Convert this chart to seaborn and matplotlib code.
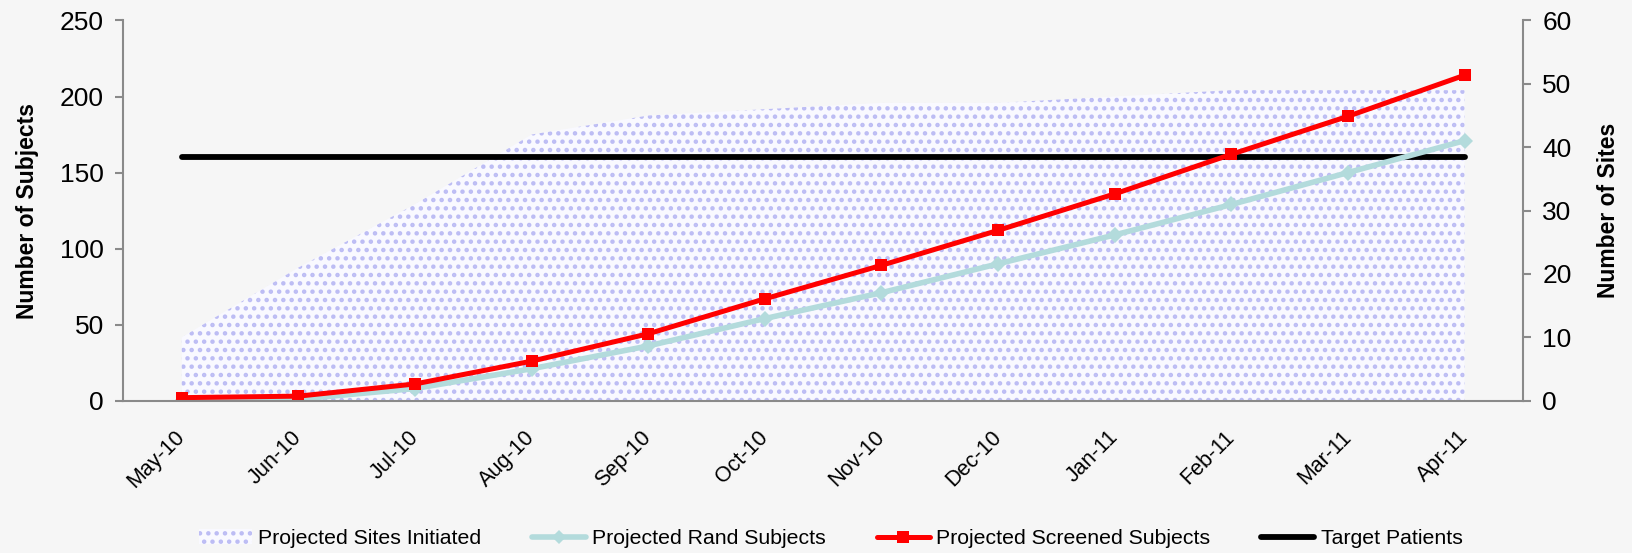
import numpy as np
import pandas as pd
import matplotlib
matplotlib.use("Agg")
import matplotlib.pyplot as plt
from matplotlib.lines import Line2D
from matplotlib.patches import Patch
import seaborn as sns

months = ["May-10", "Jun-10", "Jul-10", "Aug-10", "Sep-10", "Oct-10",
          "Nov-10", "Dec-10", "Jan-11", "Feb-11", "Mar-11", "Apr-11"]
sites_initiated = [10, 21, 31, 42, 45, 46, 47, 47, 48, 49, 49, 49]
rand_subjects = [0, 1, 8, 21, 36, 54, 71, 90, 109, 129, 150, 171]
screened_subjects = [2, 3, 11, 26, 44, 67, 89, 112, 136, 162, 187, 214]
target_patients = 160

sns.set_theme(style="white")
plt.rcParams["font.family"] = ["Liberation Sans", "DejaVu Sans"]
plt.rcParams["hatch.linewidth"] = 2.0
plt.rcParams["text.color"] = "black"
plt.rcParams["axes.labelcolor"] = "black"

df = pd.DataFrame({
    "pos": np.arange(len(months)),
    "month": months,
    "sites": sites_initiated,
    "rand": rand_subjects,
    "screened": screened_subjects,
    "target": [target_patients] * len(months),
})

bg = "#f6f6f6"
spine_c = "#8a8a8a"
teal = "#b3dbdc"
lav = "#bcbcf4"
area_face = "#f9f9ff"

fig = plt.figure(figsize=(16.32, 5.53), dpi=100, facecolor=bg)
ax = fig.add_axes([0.0756, 0.2754, 0.8576, 0.6876])
ax2 = ax.twinx()

# sites area on the secondary axis, drawn behind the subject lines
ax2.fill_between(df["pos"], 0, df["sites"], facecolor=area_face,
                 edgecolor=lav, hatch="..", linewidth=0)
ax.set_zorder(ax2.get_zorder() + 1)
ax.patch.set_visible(False)
ax2.patch.set_facecolor(bg)

sns.lineplot(data=df, x="pos", y="target", ax=ax, color="black",
             linewidth=4.2, solid_capstyle="round", legend=False)
sns.lineplot(data=df, x="pos", y="rand", ax=ax, color=teal, linewidth=4,
             marker="D", markersize=8, markeredgewidth=0, legend=False)
sns.lineplot(data=df, x="pos", y="screened", ax=ax, color="#ff0000",
             linewidth=3.6, marker="s", markersize=9, markeredgewidth=0,
             legend=False)

n = len(months)
for a in (ax, ax2):
    a.set_xlim(-0.5, n - 0.5)
ax.set_ylim(0, 250)
ax2.set_ylim(0, 60)
ax.set_yticks(np.arange(0, 251, 50))
ax2.set_yticks(np.arange(0, 61, 10))

# category boundaries carry the tick marks, centres carry the labels
ax.set_xticks(np.arange(-0.5, n, 1.0))
ax.set_xticklabels([])
ax.set_xticks(np.arange(n), minor=True)
ax.set_xticklabels(months, minor=True, rotation=45, ha="right",
                   va="center", rotation_mode="anchor", fontsize=15.5)
ax.tick_params(axis="x", which="minor", length=0, pad=24,
               labelcolor="black")
ax.tick_params(axis="x", which="major", length=6, width=1.5,
               color=spine_c, direction="out")
ax.tick_params(axis="y", length=6, width=1.5, color=spine_c,
               direction="out", labelsize=19, pad=8, labelcolor="black")
ax2.tick_params(axis="y", length=6, width=1.5, color=spine_c,
                direction="out", labelsize=19, pad=8, labelcolor="black")
ax.set_xlabel("")
ax.set_ylabel("Number of Subjects", fontsize=16.5, fontweight="bold",
              labelpad=15)
ax2.set_ylabel("Number of Sites", fontsize=16.5, fontweight="bold",
               rotation=90, labelpad=18)

for a in (ax, ax2):
    a.spines["top"].set_visible(False)
    for s in ("left", "right", "bottom"):
        a.spines[s].set_color(spine_c)
        a.spines[s].set_linewidth(1.5)
ax.spines["right"].set_visible(False)
ax2.spines["left"].set_visible(False)
ax2.spines["bottom"].set_visible(False)

handles = [
    Patch(facecolor=area_face, edgecolor=lav, hatch="..", linewidth=0),
    Line2D([], [], color=teal, linewidth=4, marker="D", markersize=7,
           markeredgewidth=0),
    Line2D([], [], color="#ff0000", linewidth=3.6, marker="s",
           markersize=8, markeredgewidth=0),
    Line2D([], [], color="black", linewidth=4.2, solid_capstyle="round"),
]
labels = ["Projected Sites Initiated", "Projected Rand Subjects",
          "Projected Screened Subjects", "Target Patients"]
fig.legend(handles, labels, loc="center", bbox_to_anchor=(0.509, 0.026),
           ncol=4, frameon=False, fontsize=15.3, handlelength=2.5,
           handletextpad=0.3, columnspacing=2.4)

fig.savefig("out.png", dpi=100, facecolor=bg)
